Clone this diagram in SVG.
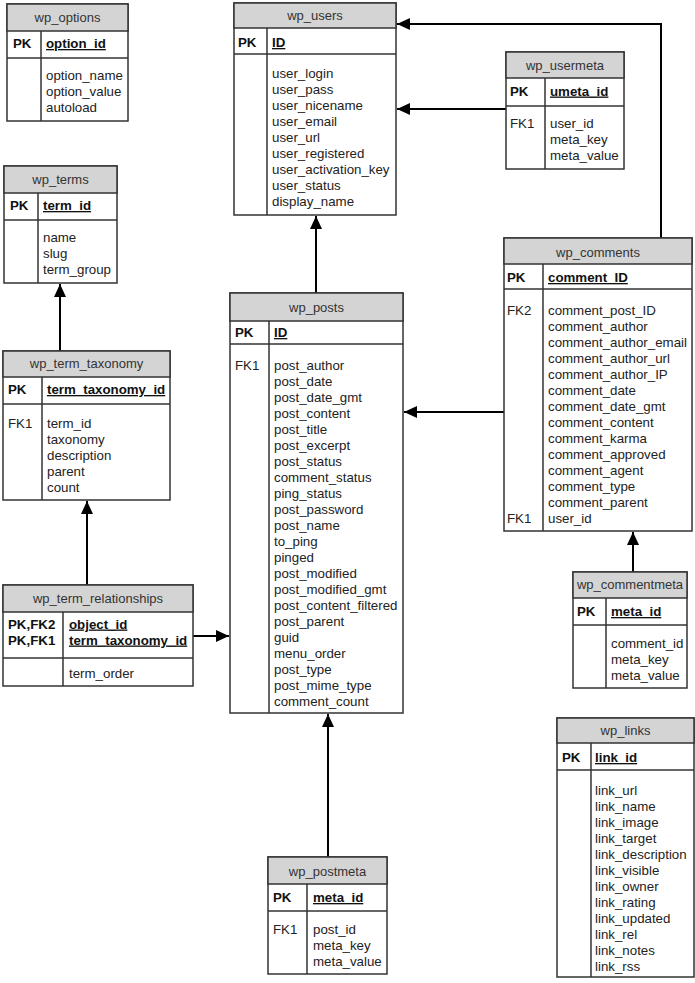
<svg xmlns="http://www.w3.org/2000/svg" width="695" height="983" viewBox="0 0 695 983">
<style>
text{font-family:"Liberation Sans",Arial,sans-serif;font-size:13.3px;fill:#222}
.t{text-anchor:middle;fill:#333;font-size:13px}
.k{font-weight:bold;fill:#111}
.u{font-weight:bold;text-decoration:underline;fill:#111}
.box{fill:#fff;stroke:#333;stroke-width:1.5}
.hd{fill:#d4d4d4;stroke:#333;stroke-width:1.5}
.ln{stroke:#333;stroke-width:1.5;fill:none}
.c{stroke:#000;stroke-width:2;fill:none;marker-end:url(#ah)}
</style>
<defs>
<marker id="ah" markerUnits="userSpaceOnUse" markerWidth="14" markerHeight="12" refX="13" refY="6" orient="auto">
<path d="M0,0 L13,6 L0,12 z" fill="#000"/>
</marker>
</defs>
<rect width="695" height="983" fill="#fff"/>

<g id="connectors">
<polyline class="c" points="661,238 661,24 397,24"/>
<line class="c" x1="506" y1="109" x2="397" y2="109"/>
<line class="c" x1="316" y1="293" x2="316" y2="216"/>
<line class="c" x1="504" y1="412" x2="404" y2="412"/>
<line class="c" x1="60" y1="351" x2="60" y2="284"/>
<line class="c" x1="87" y1="585" x2="87" y2="501"/>
<line class="c" x1="193" y1="636" x2="229" y2="636"/>
<line class="c" x1="633" y1="572" x2="633" y2="532"/>
<line class="c" x1="328" y1="857" x2="328" y2="714"/>
</g>

<g id="wp_options">
<rect class="box" x="7" y="4" width="121" height="117"/>
<rect class="hd" x="7" y="4" width="121" height="27"/>
<line class="ln" x1="7" y1="58" x2="128" y2="58"/>
<line class="ln" x1="41" y1="31" x2="41" y2="121"/>
<text class="t" x="67.5" y="22">wp_options</text>
<text class="k" x="13" y="48">PK</text>
<text class="u" x="46" y="48">option_id</text>
<text x="46" y="79.5">option_name</text>
<text x="46" y="95.5">option_value</text>
<text x="46" y="111.5">autoload</text>
</g>

<g id="wp_terms">
<rect class="box" x="4" y="166" width="113" height="117"/>
<rect class="hd" x="4" y="166" width="113" height="27"/>
<line class="ln" x1="4" y1="220" x2="117" y2="220"/>
<line class="ln" x1="38" y1="193" x2="38" y2="283"/>
<text class="t" x="60.5" y="184">wp_terms</text>
<text class="k" x="10" y="210">PK</text>
<text class="u" x="43" y="210">term_id</text>
<text x="43" y="241.5">name</text>
<text x="43" y="257.5">slug</text>
<text x="43" y="273.5">term_group</text>
</g>

<g id="wp_users">
<rect class="box" x="234" y="3" width="162" height="212"/>
<rect class="hd" x="234" y="3" width="162" height="25"/>
<line class="ln" x1="234" y1="54" x2="396" y2="54"/>
<line class="ln" x1="267" y1="28" x2="267" y2="215"/>
<text class="t" x="315" y="20">wp_users</text>
<text class="k" x="238" y="47">PK</text>
<text class="u" x="272" y="47">ID</text>
<text x="272" y="77.5">user_login</text>
<text x="272" y="93.5">user_pass</text>
<text x="272" y="109.5">user_nicename</text>
<text x="272" y="125.5">user_email</text>
<text x="272" y="141.5">user_url</text>
<text x="272" y="157.5">user_registered</text>
<text x="272" y="173.5">user_activation_key</text>
<text x="272" y="189.5">user_status</text>
<text x="272" y="205.5">display_name</text>
</g>

<g id="wp_usermeta">
<rect class="box" x="506" y="52" width="118" height="117"/>
<rect class="hd" x="506" y="52" width="118" height="26"/>
<line class="ln" x1="506" y1="106" x2="624" y2="106"/>
<line class="ln" x1="545" y1="78" x2="545" y2="169"/>
<text class="t" x="565" y="69.5">wp_usermeta</text>
<text class="k" x="510" y="95.5">PK</text>
<text class="u" x="550" y="95.5">umeta_id</text>
<text x="510" y="127.5">FK1</text>
<text x="550" y="127.5">user_id</text>
<text x="550" y="143.5">meta_key</text>
<text x="550" y="159.5">meta_value</text>
</g>

<g id="wp_comments">
<rect class="box" x="504" y="238" width="188" height="293"/>
<rect class="hd" x="504" y="238" width="188" height="26"/>
<line class="ln" x1="504" y1="289" x2="692" y2="289"/>
<line class="ln" x1="543" y1="264" x2="543" y2="531"/>
<text class="t" x="598" y="256.5">wp_comments</text>
<text class="k" x="507" y="282">PK</text>
<text class="u" x="548" y="282">comment_ID</text>
<text x="507" y="314.5">FK2</text>
<text x="548" y="314.5">comment_post_ID</text>
<text x="548" y="330.5">comment_author</text>
<text x="548" y="346.5">comment_author_email</text>
<text x="548" y="362.5">comment_author_url</text>
<text x="548" y="378.5">comment_author_IP</text>
<text x="548" y="394.5">comment_date</text>
<text x="548" y="410.5">comment_date_gmt</text>
<text x="548" y="426.5">comment_content</text>
<text x="548" y="442.5">comment_karma</text>
<text x="548" y="458.5">comment_approved</text>
<text x="548" y="474.5">comment_agent</text>
<text x="548" y="490.5">comment_type</text>
<text x="548" y="506.5">comment_parent</text>
<text x="507" y="522.5">FK1</text>
<text x="548" y="522.5">user_id</text>
</g>

<g id="wp_posts">
<rect class="box" x="230" y="293" width="173" height="420"/>
<rect class="hd" x="230" y="293" width="173" height="28"/>
<line class="ln" x1="230" y1="344" x2="403" y2="344"/>
<line class="ln" x1="269" y1="321" x2="269" y2="713"/>
<text class="t" x="316.5" y="311.5">wp_posts</text>
<text class="k" x="235" y="337">PK</text>
<text class="u" x="274" y="337">ID</text>
<text x="235" y="369.5">FK1</text>
<text x="274" y="369.5">post_author</text>
<text x="274" y="385.5">post_date</text>
<text x="274" y="401.5">post_date_gmt</text>
<text x="274" y="417.5">post_content</text>
<text x="274" y="433.5">post_title</text>
<text x="274" y="449.5">post_excerpt</text>
<text x="274" y="465.5">post_status</text>
<text x="274" y="481.5">comment_status</text>
<text x="274" y="497.5">ping_status</text>
<text x="274" y="513.5">post_password</text>
<text x="274" y="529.5">post_name</text>
<text x="274" y="545.5">to_ping</text>
<text x="274" y="561.5">pinged</text>
<text x="274" y="577.5">post_modified</text>
<text x="274" y="593.5">post_modified_gmt</text>
<text x="274" y="609.5">post_content_filtered</text>
<text x="274" y="625.5">post_parent</text>
<text x="274" y="641.5">guid</text>
<text x="274" y="657.5">menu_order</text>
<text x="274" y="673.5">post_type</text>
<text x="274" y="689.5">post_mime_type</text>
<text x="274" y="705.5">comment_count</text>
</g>

<g id="wp_term_taxonomy">
<rect class="box" x="3" y="351" width="167" height="149"/>
<rect class="hd" x="3" y="351" width="167" height="26"/>
<line class="ln" x1="3" y1="404" x2="170" y2="404"/>
<line class="ln" x1="42" y1="377" x2="42" y2="500"/>
<text class="t" x="86.5" y="367.5">wp_term_taxonomy</text>
<text class="k" x="8" y="394">PK</text>
<text class="u" x="47" y="394">term_taxonomy_id</text>
<text x="8" y="427.5">FK1</text>
<text x="47" y="427.5">term_id</text>
<text x="47" y="443.5">taxonomy</text>
<text x="47" y="459.5">description</text>
<text x="47" y="475.5">parent</text>
<text x="47" y="491.5">count</text>
</g>

<g id="wp_term_relationships">
<rect class="box" x="3" y="585" width="190" height="101"/>
<rect class="hd" x="3" y="585" width="190" height="27"/>
<line class="ln" x1="3" y1="658" x2="193" y2="658"/>
<line class="ln" x1="63" y1="612" x2="63" y2="686"/>
<text class="t" x="98" y="602.5">wp_term_relationships</text>
<text class="k" x="8" y="628.5">PK,FK2</text>
<text class="k" x="8" y="644.5">PK,FK1</text>
<text class="u" x="69" y="628.5">object_id</text>
<text class="u" x="69" y="644.5">term_taxonomy_id</text>
<text x="69" y="677.5">term_order</text>
</g>

<g id="wp_commentmeta">
<rect class="box" x="573" y="572" width="114" height="116"/>
<rect class="hd" x="573" y="572" width="114" height="26"/>
<line class="ln" x1="573" y1="625" x2="687" y2="625"/>
<line class="ln" x1="606" y1="598" x2="606" y2="688"/>
<text class="t" x="630" y="588.5">wp_commentmeta</text>
<text class="k" x="577" y="616">PK</text>
<text class="u" x="611" y="616">meta_id</text>
<text x="611" y="647.5">comment_id</text>
<text x="611" y="663.5">meta_key</text>
<text x="611" y="679.5">meta_value</text>
</g>

<g id="wp_links">
<rect class="box" x="557" y="718" width="137" height="259"/>
<rect class="hd" x="557" y="718" width="137" height="25"/>
<line class="ln" x1="557" y1="770" x2="694" y2="770"/>
<line class="ln" x1="591" y1="743" x2="591" y2="977"/>
<text class="t" x="625.5" y="735">wp_links</text>
<text class="k" x="562" y="762">PK</text>
<text class="u" x="595" y="762">link_id</text>
<text x="595" y="794.5">link_url</text>
<text x="595" y="810.5">link_name</text>
<text x="595" y="826.5">link_image</text>
<text x="595" y="842.5">link_target</text>
<text x="595" y="858.5">link_description</text>
<text x="595" y="874.5">link_visible</text>
<text x="595" y="890.5">link_owner</text>
<text x="595" y="906.5">link_rating</text>
<text x="595" y="922.5">link_updated</text>
<text x="595" y="938.5">link_rel</text>
<text x="595" y="954.5">link_notes</text>
<text x="595" y="970.5">link_rss</text>
</g>

<g id="wp_postmeta">
<rect class="box" x="268" y="857" width="119" height="117"/>
<rect class="hd" x="268" y="857" width="119" height="27"/>
<line class="ln" x1="268" y1="911" x2="387" y2="911"/>
<line class="ln" x1="307" y1="884" x2="307" y2="974"/>
<text class="t" x="327.5" y="875.5">wp_postmeta</text>
<text class="k" x="273" y="902">PK</text>
<text class="u" x="313" y="902">meta_id</text>
<text x="273" y="933.5">FK1</text>
<text x="313" y="933.5">post_id</text>
<text x="313" y="949.5">meta_key</text>
<text x="313" y="965.5">meta_value</text>
</g>
</svg>
